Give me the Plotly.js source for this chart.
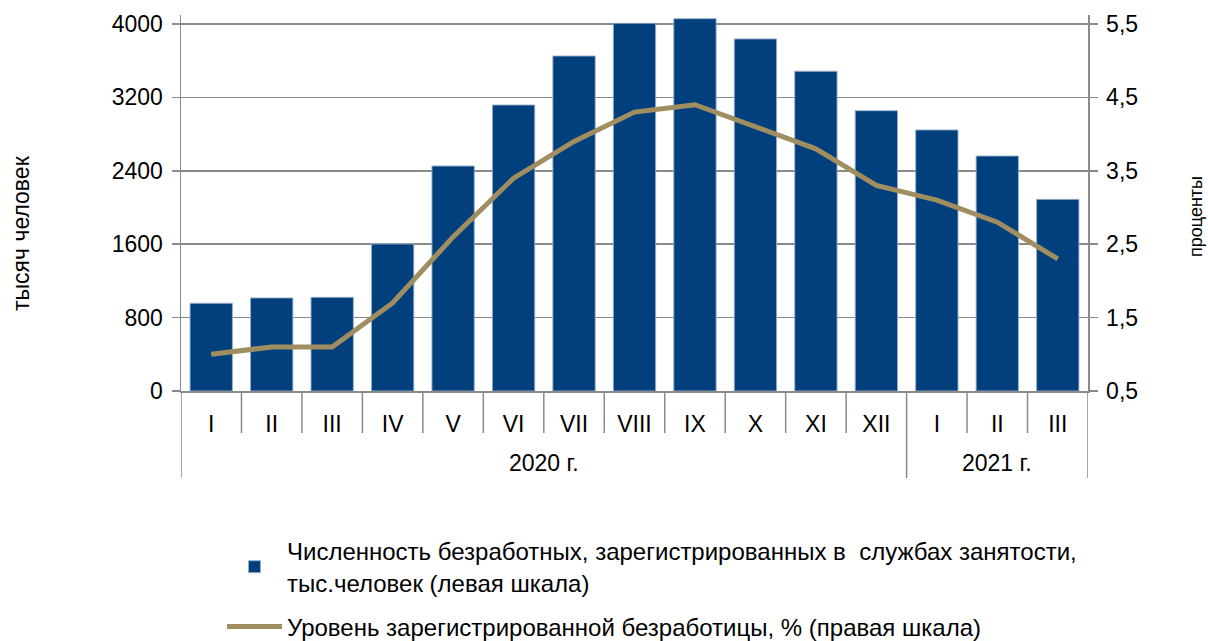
<!DOCTYPE html>
<html>
<head>
<meta charset="utf-8">
<script src="https://cdn.plot.ly/plotly-3.0.1.min.js"></script>
<style>html,body{margin:0;padding:0;background:#fff;}#chart{width:1208px;height:641px;}</style>
</head>
<body>
<div id="chart"></div>
<script>
// Months (Roman numerals) and years
const months = ["I","II","III","IV","V","VI","VII","VIII","IX","X","XI","XII","I","II","III"];
const years = ["2020 г.","2021 г."];
const monthsPerYear = [12, 3];
// Registered unemployed, thousand persons (left scale)
const unemployedThousands = [956, 1014, 1021, 1602, 2452, 3117, 3651, 4008, 4058, 3837, 3485, 3055, 2845, 2561, 2089];
// Registered unemployment rate, % (right scale)
const unemploymentRate = [1.0, 1.1, 1.1, 1.7, 2.6, 3.4, 3.9, 4.3, 4.4, 4.1, 3.8, 3.3, 3.1, 2.8, 2.3];
// Axis ticks
const leftTicks = [0, 800, 1600, 2400, 3200, 4000];
const rightTicks = [0.5, 1.5, 2.5, 3.5, 4.5, 5.5];
const rightTickText = ["0,5","1,5","2,5","3,5","4,5","5,5"];
const barName = "Численность безработных, зарегистрированных в  службах занятости,<br>тыс.человек (левая шкала)";
const lineName = "Уровень зарегистрированной безработицы, % (правая шкала)";
const leftTitle = "тысяч человек";
const rightTitle = "проценты";

const idx = months.map((m, i) => i);
const FONT = "Arial, 'Liberation Sans', sans-serif";
const GRID = "#8a8a8a";

const traces = [
  {
    type: "bar", x: idx, y: unemployedThousands, name: barName,
    marker: {color: "#02407D", line: {color: "rgba(150,175,205,0.9)", width: 1}},
    legendgroup: "a", hoverinfo: "y"
  },
  {
    type: "scatter", mode: "lines", x: idx, y: unemploymentRate, yaxis: "y2", name: lineName,
    line: {color: "#A08E60", width: 5}, legendgroup: "b", hoverinfo: "y"
  }
];

// Category box dividers under the x axis
const shapes = [];
const nCat = months.length;
const yearBounds = [-0.5];
let acc = -0.5;
monthsPerYear.forEach(n => { acc += n; yearBounds.push(acc); });
for (let i = 0; i <= nCat; i++) {
  const xb = i - 0.5;
  const long = yearBounds.some(b => Math.abs(b - xb) < 1e-9);
  shapes.push({
    type: "line", xref: "x", yref: "paper", ysizemode: "pixel", yanchor: 0,
    x0: xb, x1: xb, y0: 0, y1: long ? -87 : -42,
    line: {color: GRID, width: 1.5}
  });
}
const annotations = [];
let start = -0.5;
years.forEach((y, k) => {
  const end = start + monthsPerYear[k];
  annotations.push({
    text: y, xref: "x", yref: "paper", x: (start + end) / 2, y: 0, yshift: -72,
    xanchor: "center", yanchor: "middle", showarrow: false,
    font: {family: FONT, size: 23, color: "#000"}
  });
  start = end;
});
// Axis titles (placed as in the reference, off-centre)
annotations.push({
  text: leftTitle, xref: "paper", yref: "paper", x: 0, xshift: -160, y: (391 - 233) / 376,
  xanchor: "center", yanchor: "middle", textangle: -90, showarrow: false,
  font: {family: FONT, size: 23, color: "#000"}
});
annotations.push({
  text: rightTitle, xref: "paper", yref: "paper", x: 1, xshift: 108, y: (391 - 217) / 376,
  xanchor: "center", yanchor: "middle", textangle: -90, showarrow: false,
  font: {family: FONT, size: 18, color: "#000"}
});

const layout = {
  width: 1208, height: 641,
  margin: {l: 181, r: 120, t: 15, b: 250, pad: 0, autoexpand: false},
  paper_bgcolor: "#fff", plot_bgcolor: "#fff",
  font: {family: FONT, size: 23, color: "#000"},
  bargap: 0.3,
  separators: ", ",
  xaxis: {
    type: "linear", range: [-0.5, nCat - 0.5],
    tickmode: "array", tickvals: idx, ticktext: months,
    ticks: "", ticklabelstandoff: 12,
    showline: true, linecolor: GRID, linewidth: 1.5,
    showgrid: false, zeroline: false,
    tickfont: {family: FONT, size: 23, color: "#000"}
  },
  yaxis: {
    range: [0, 4098], tickmode: "array", tickvals: leftTicks,
    showline: true, linecolor: GRID, linewidth: 1.5,
    ticks: "outside", ticklen: 8, tickcolor: GRID, tickwidth: 1.5, ticklabelstandoff: 4,
    showgrid: true, gridcolor: GRID, gridwidth: 1.5, zeroline: false,
    tickfont: {family: FONT, size: 23, color: "#000"}
  },
  yaxis2: {
    overlaying: "y", side: "right",
    range: [0.5, 5.623], tickmode: "array", tickvals: rightTicks, ticktext: rightTickText,
    showline: true, linecolor: GRID, linewidth: 1.5,
    ticks: "outside", ticklen: 8, tickcolor: GRID, tickwidth: 1.5, ticklabelstandoff: 4,
    showgrid: false, zeroline: false,
    tickfont: {family: FONT, size: 23, color: "#000"}
  },
  showlegend: true,
  legend: {
    x: (222 - 181) / 907, xanchor: "left", y: (391 - 529) / 376, yanchor: "top",
    orientation: "v", traceorder: "grouped", tracegroupgap: 10,
    itemwidth: 55,
    font: {family: FONT, size: 24, color: "#000"},
    bgcolor: "rgba(0,0,0,0)"
  },
  shapes: shapes,
  annotations: annotations
};

Plotly.newPlot("chart", traces, layout, {displayModeBar: false, staticPlot: true});
</script>
</body>
</html>
